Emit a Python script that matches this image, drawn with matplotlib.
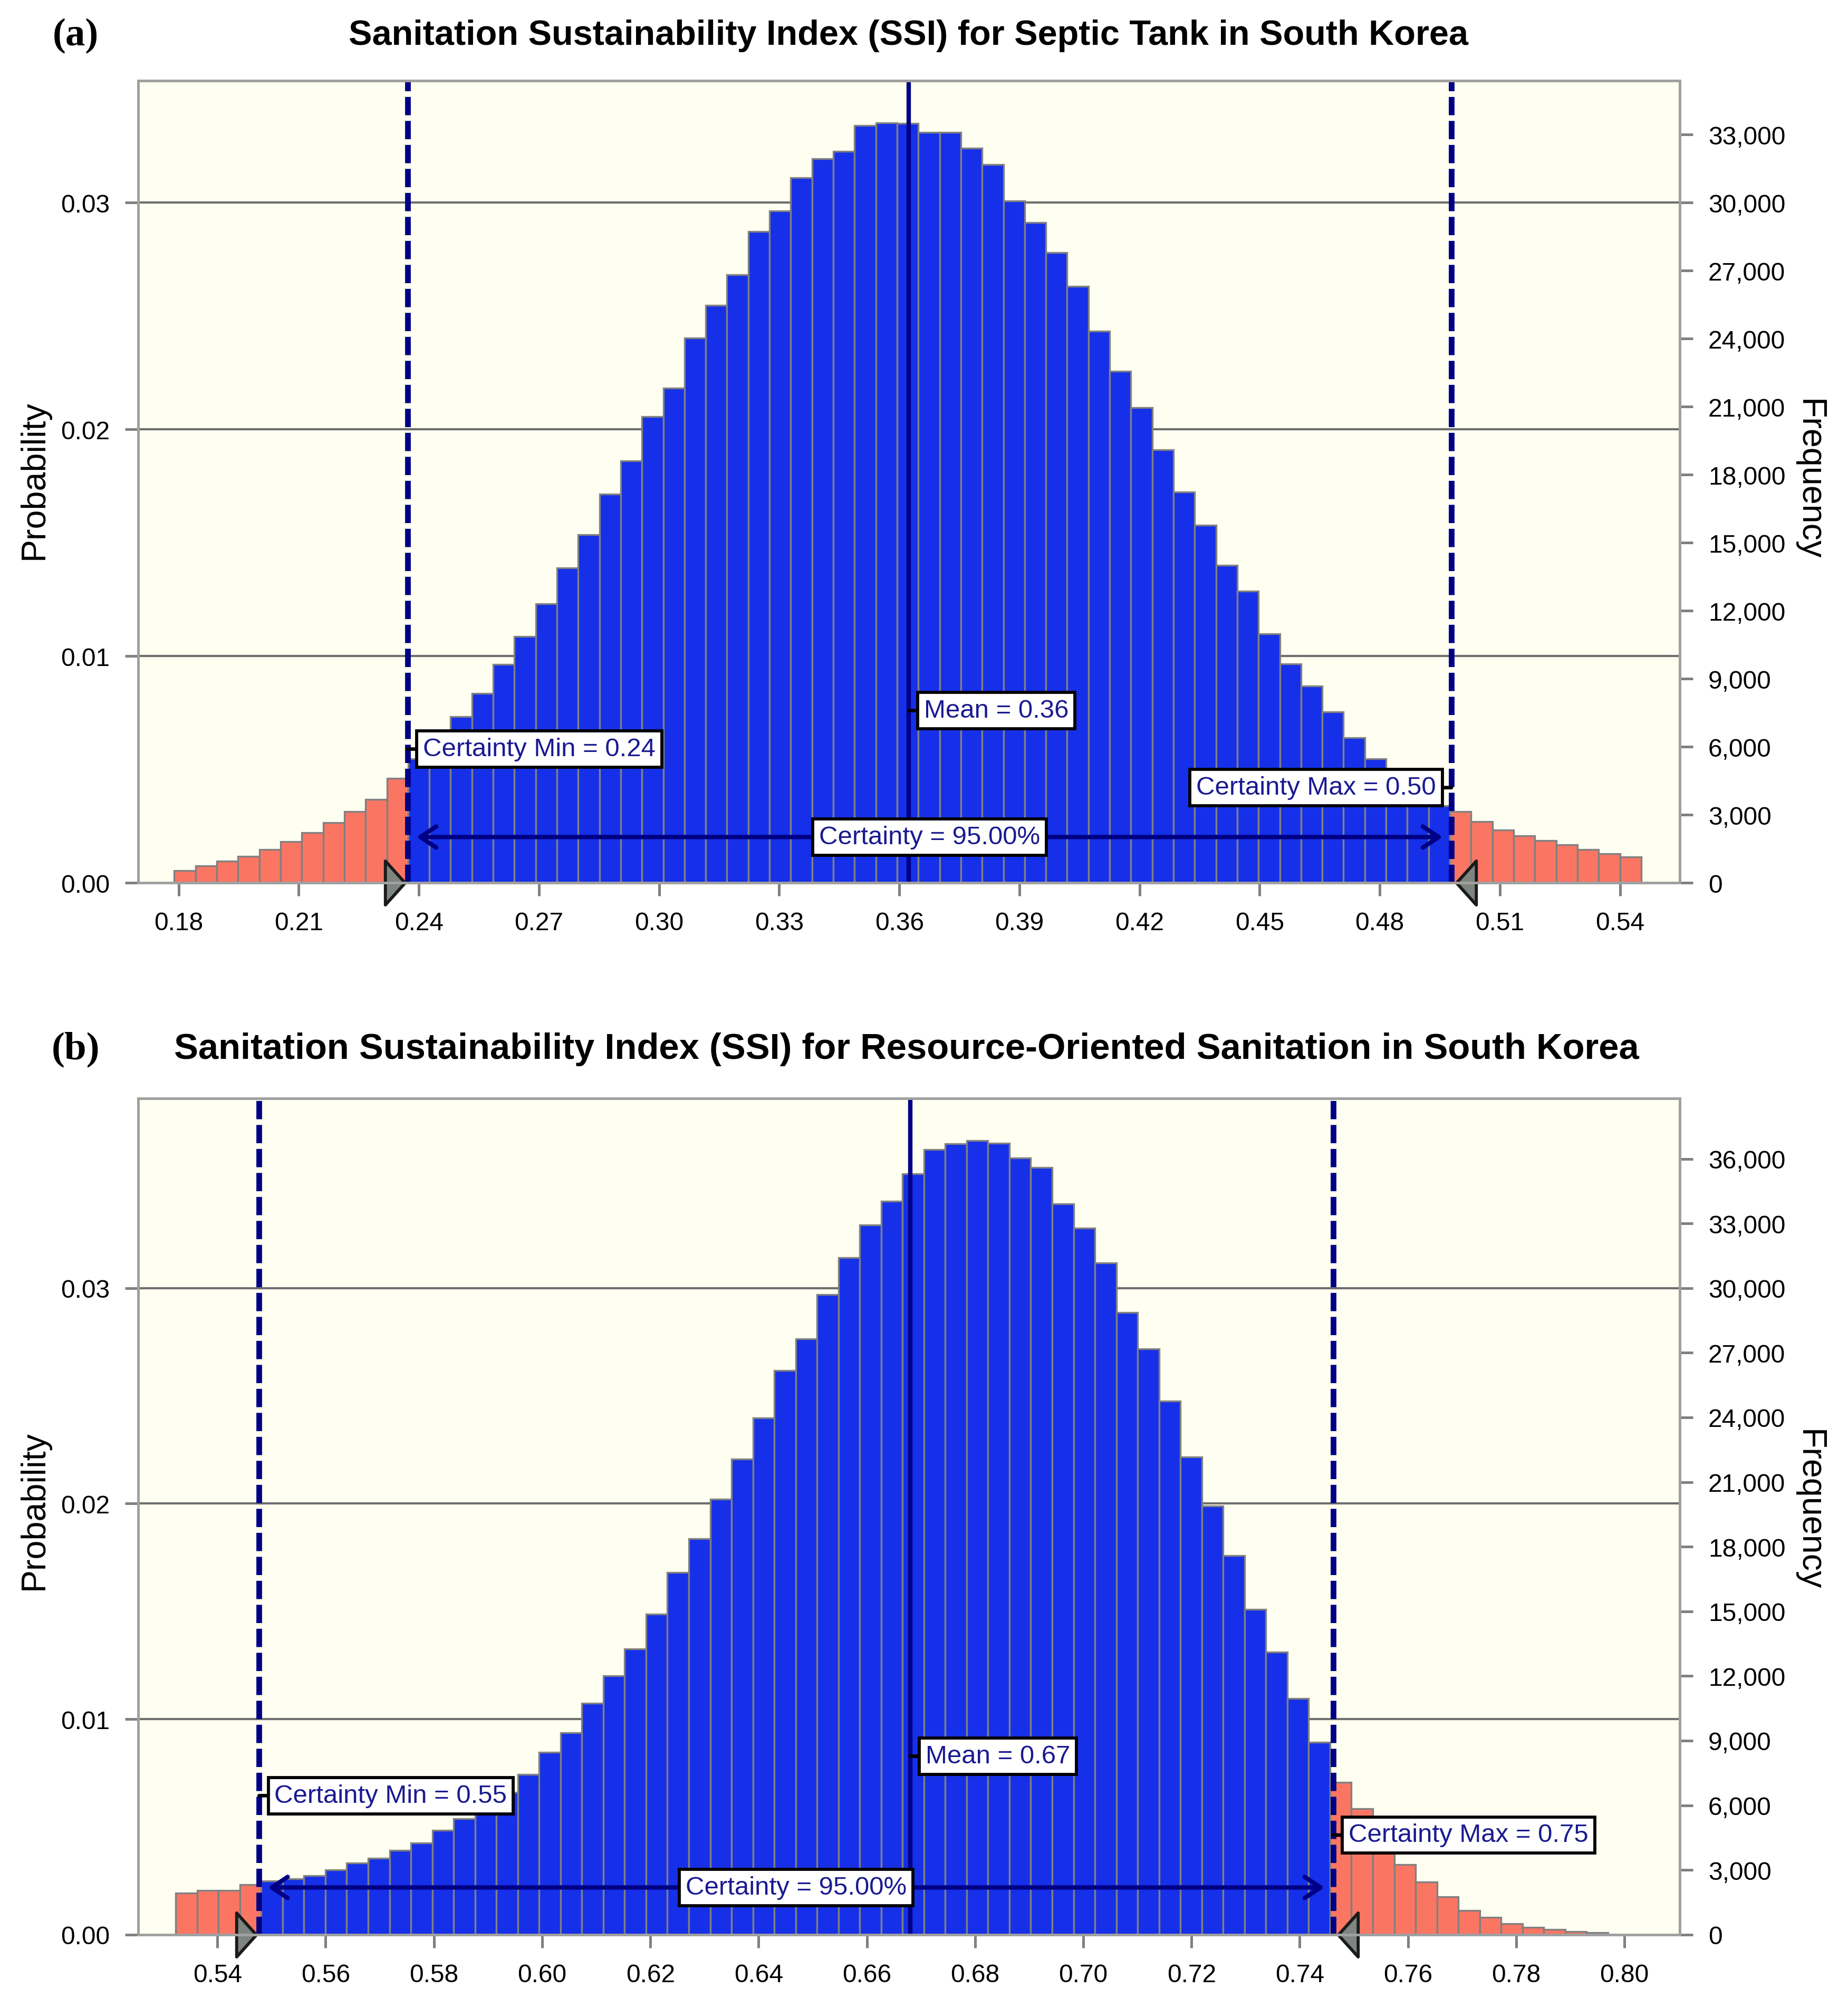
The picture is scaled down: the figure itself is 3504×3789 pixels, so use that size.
#!/usr/bin/env python3

import numpy as np
import matplotlib
matplotlib.use("Agg")
import matplotlib.pyplot as plt
from matplotlib.path import Path
from matplotlib.markers import MarkerStyle
from matplotlib.transforms import ScaledTranslation
from matplotlib.ticker import FuncFormatter

# ----------------------------
# Data
# ----------------------------
# (a) Septic tank: probability per bin
top_bin_start = 0.1789
top_bin_width = 0.00531
top_prob = [0.00053, 0.00075, 0.00096, 0.00117, 0.00146, 0.00181, 0.00221, 0.00266, 0.00314, 0.00367, 0.0046,
            0.00546, 0.0062, 0.00732, 0.00836, 0.00964, 0.01086, 0.01232, 0.01389, 0.01536, 0.01714, 0.01861,
            0.02057, 0.02183, 0.02403, 0.02547, 0.02683, 0.02872, 0.02963, 0.03111, 0.03194, 0.03226, 0.0334,
            0.03351, 0.0335,
            0.0331, 0.0331, 0.0324, 0.03167, 0.03008, 0.02912, 0.02779, 0.02632, 0.02433, 0.02257, 0.02097,
            0.01911, 0.01725, 0.01578, 0.014, 0.01286, 0.01099, 0.00966, 0.00868, 0.00753, 0.00639, 0.00546,
            0.0046, 0.0039, 0.0034,
            0.00314, 0.00271, 0.00232, 0.00208, 0.00186, 0.00168, 0.00146, 0.00128, 0.00114]
top_cert_min = 0.2372
top_cert_max = 0.4979
top_mean = 0.3623
top_labels = ["Certainty Min = 0.24", "Mean = 0.36", "Certainty Max = 0.50", "Certainty = 95.00%"]
top_xticks = [0.18, 0.21, 0.24, 0.27, 0.30, 0.33, 0.36, 0.39, 0.42, 0.45, 0.48, 0.51, 0.54]
top_freq_ticks = [0, 3000, 6000, 9000, 12000, 15000, 18000, 21000, 24000, 27000, 30000, 33000]

# (b) Resource-oriented sanitation
bot_bin_start = 0.5323
bot_bin_width = 0.00395
bot_prob = [0.00192, 0.00206, 0.00206, 0.00233,
            0.0025, 0.0026, 0.00274, 0.00301, 0.00333, 0.00354, 0.00392, 0.00425, 0.00484, 0.00537, 0.006,
            0.0066, 0.00743, 0.00847, 0.00938, 0.01074, 0.012, 0.01327, 0.01487, 0.01681, 0.01838, 0.0202,
            0.02206, 0.02398, 0.02617, 0.02764, 0.0297, 0.03142, 0.03292, 0.03404, 0.03531, 0.03643,
            0.03669, 0.03684, 0.03672, 0.03605, 0.0356, 0.0339, 0.03278, 0.03118, 0.02888, 0.02717, 0.02476,
            0.02216, 0.01989, 0.0176, 0.01509, 0.01312, 0.01096, 0.00893,
            0.00707, 0.00584, 0.00427, 0.00324, 0.00245, 0.00177, 0.00112, 0.0008, 0.0005, 0.00035, 0.00024,
            0.00015, 0.0001]
bot_cert_min = 0.5477
bot_cert_max = 0.7462
bot_mean = 0.6680
bot_labels = ["Certainty Min = 0.55", "Mean = 0.67", "Certainty Max = 0.75", "Certainty = 95.00%"]
bot_xticks = [0.54, 0.56, 0.58, 0.60, 0.62, 0.64, 0.66, 0.68, 0.70, 0.72, 0.74, 0.76, 0.78, 0.80]
bot_freq_ticks = [0, 3000, 6000, 9000, 12000, 15000, 18000, 21000, 24000, 27000, 30000, 33000, 36000]

n_trials = 1000000
prob_ticks = [0.0, 0.01, 0.02, 0.03]

# ----------------------------
# Style
# ----------------------------
bg_color = "#FEFEF1"
blue = "#1530E8"
red = "#FA7663"
navy = "#000086"
label_color = "#1A1A90"
spine_color = "#A0A0A0"
grid_color = "#6E6E6E"
tri_color = "#7E8580"

plt.rcParams["font.family"] = ["Liberation Sans", "DejaVu Sans"]

# tall thin triangles for the certainty grabbers
tri_right = MarkerStyle(Path([(-0.45, -1), (0.45, 0), (-0.45, 1), (-0.45, -1)], closed=True))
tri_left = MarkerStyle(Path([(0.45, -1), (-0.45, 0), (0.45, 1), (0.45, -1)], closed=True))


def draw_panel(fig, rect, bin_start, bin_width, prob, cert_min, cert_max, mean,
               labels, xticks, freq_ticks, xlim, ylim, label_y, arrow_y, max_left):
    ax = fig.add_axes(rect)
    ax.set_facecolor(bg_color)

    prob = np.array(prob)
    lefts = bin_start + bin_width * np.arange(len(prob))
    centers = lefts + bin_width / 2
    colors = [blue if cert_min < c < cert_max else red for c in centers]

    for y in prob_ticks[1:]:
        ax.axhline(y, color=grid_color, lw=1.0, zorder=1)

    ax.bar(lefts, prob, width=bin_width, align="edge", color=colors,
           edgecolor="#808080", linewidth=0.8, zorder=2)

    # certainty limits and mean
    for xv in (cert_min, cert_max):
        ax.axvline(xv, color=navy, lw=2.6, dashes=(3.2, 1.0), zorder=4)
    ax.axvline(mean, color=navy, lw=2.0, zorder=4)

    # grabber triangles
    off_l = ScaledTranslation(-5.8 / 72, 0, fig.dpi_scale_trans)
    off_r = ScaledTranslation(6.8 / 72, 0, fig.dpi_scale_trans)
    ax.plot([cert_min], [0], marker=tri_right, ms=20, mfc=tri_color, mec="#1A1A1A", mew=1.4,
            transform=ax.transData + off_l, clip_on=False, zorder=6)
    ax.plot([cert_max], [0], marker=tri_left, ms=20, mfc=tri_color, mec="#1A1A1A", mew=1.4,
            transform=ax.transData + off_r, clip_on=False, zorder=6)

    box = dict(boxstyle="square,pad=0.24", fc="white", ec="black", lw=1.4)
    conn = dict(arrowstyle="-", color="black", lw=1.6, shrinkA=0, shrinkB=0)
    txt_kw = dict(textcoords="offset points", va="center", color=label_color,
                  fontsize=11.8, bbox=box, arrowprops=conn, zorder=7)

    ax.annotate(labels[0], xy=(cert_min, label_y[0]), xytext=(7, 0), ha="left", **txt_kw)
    ax.annotate(labels[1], xy=(mean, label_y[1]), xytext=(7, 0), ha="left", **txt_kw)
    if max_left:
        ax.annotate(labels[2], xy=(cert_max, label_y[2]), xytext=(-7, 0), ha="right", **txt_kw)
    else:
        ax.annotate(labels[2], xy=(cert_max, label_y[2]), xytext=(7, 0), ha="left", **txt_kw)

    # certainty range arrow
    ax.annotate("", xy=(cert_max, arrow_y), xytext=(cert_min, arrow_y),
                arrowprops=dict(arrowstyle="<->,head_length=0.6,head_width=0.4", color=navy, lw=2.0,
                                shrinkA=4, shrinkB=4, mutation_scale=12), zorder=5)
    ax.text((cert_min + cert_max) / 2, arrow_y, labels[3], ha="center", va="center",
            color=label_color, fontsize=11.8, bbox=box, zorder=7)

    ax.set_xlim(xlim)
    ax.set_ylim(ylim)
    ax.set_xticks(xticks)
    ax.set_yticks(prob_ticks)
    ax.xaxis.set_major_formatter(FuncFormatter(lambda v, p: f"{v:.2f}"))
    ax.yaxis.set_major_formatter(FuncFormatter(lambda v, p: f"{v:.2f}"))
    ax.tick_params(axis="both", direction="out", length=6, width=1.2, color="#808080",
                   labelsize=11.5, pad=7)

    ax2 = ax.twinx()
    ax2.set_ylim(ylim[0] * n_trials, ylim[1] * n_trials)
    ax2.set_yticks(freq_ticks)
    ax2.yaxis.set_major_formatter(FuncFormatter(lambda v, p: f"{int(v):,}"))
    ax2.tick_params(axis="y", direction="out", length=6, width=1.2, color="#808080",
                    labelsize=11.5, pad=7)

    for a in (ax, ax2):
        for s in a.spines.values():
            s.set_color(spine_color)
            s.set_linewidth(1.2)
    return ax


def main():
    fig = plt.figure(figsize=(11.68, 12.633), dpi=300)
    fig.patch.set_facecolor("white")

    draw_panel(fig, [0.0749, 0.5580, 0.8340, 0.4014], top_bin_start, top_bin_width, top_prob,
               top_cert_min, top_cert_max, top_mean, top_labels, top_xticks, top_freq_ticks,
               (0.16995, 0.5549), (0, 0.03538), (0.0059, 0.0076, 0.0042), 0.00202, True)
    draw_panel(fig, [0.0749, 0.0317, 0.8340, 0.4184], bot_bin_start, bot_bin_width, bot_prob,
               bot_cert_min, bot_cert_max, bot_mean, bot_labels, bot_xticks, bot_freq_ticks,
               (0.5254, 0.8102), (0, 0.0388), (0.00645, 0.00828, 0.00462), 0.00219, False)

    fig.text(0.4915, 0.982, "Sanitation Sustainability Index (SSI) for Septic Tank in South Korea",
             ha="center", va="center", fontsize=16.0, fontweight="bold")
    fig.text(0.4905, 0.4748, "Sanitation Sustainability Index (SSI) for Resource-Oriented Sanitation in South Korea",
             ha="center", va="center", fontsize=16.5, fontweight="bold")
    for y, tag in ((0.982, "(a)"), (0.4748, "(b)")):
        fig.text(0.041, y, tag, ha="center", va="center", fontsize=18, fontweight="bold",
                 family=["Liberation Serif", "DejaVu Serif"])

    for y in (0.76, 0.2444):
        fig.text(0.0185, y, "Probability", rotation=90, ha="center", va="center", fontsize=15.5)
        fig.text(0.9787, y, "Frequency", rotation=270, ha="center", va="center", fontsize=15.5)

    fig.savefig("out.png", dpi=300)


if __name__ == "__main__":
    main()
